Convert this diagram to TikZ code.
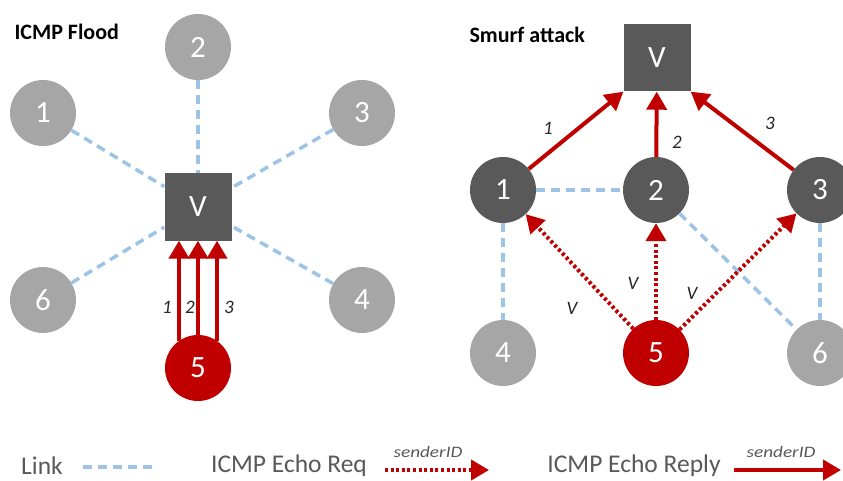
\documentclass[tikz,border=0pt]{standalone}
\usepackage{fontspec}
\usepackage{graphicx}
\setmainfont{Carlito}
\usetikzlibrary{arrows.meta}
\definecolor{lgray}{RGB}{166,166,166}
\definecolor{dgray}{RGB}{89,89,89}
\definecolor{dred}{RGB}{192,0,0}
\definecolor{lblue}{RGB}{157,195,230}
\definecolor{txtgray}{RGB}{89,89,89}
\begin{document}
\begin{tikzpicture}[x=1pt,y=-1pt,
  circ/.style={circle, minimum size=66pt, inner sep=0pt, text=white, font=\fontsize{31}{31}\selectfont},
  lnode/.style={circ, fill=lgray},
  dnode/.style={circ, fill=dgray},
  rnode/.style={circ, fill=dred},
  vbox/.style={rectangle, fill=dgray, minimum size=67pt, inner sep=0pt, text=white, font=\fontsize{31}{31}\selectfont},
  link/.style={draw=lblue, line width=3.5pt, dash pattern=on 9pt off 6pt},
  tipstyle/.style={-{Triangle[length=18pt,width=20pt]}},
  reply/.style={draw=dred, line width=4pt, tipstyle},
  req/.style={draw=dred, line width=4pt, dash pattern=on 3pt off 2.6pt, tipstyle},
  lab/.style={font=\itshape\fontsize{19}{19}\selectfont, text=black!85},
  sid/.style={font=\itshape\fontsize{16}{16}\selectfont, text=txtgray},
  ttl/.style={font=\bfseries\fontsize{22}{22}\selectfont, anchor=west},
  legtxt/.style={font=\fontsize{25.5}{25.5}\selectfont, text=txtgray},
]
\useasboundingbox[fill=white] (0,0) rectangle (843,481);

% ---------- ICMP Flood ----------
\node[ttl] (t1) at (11,32) {ICMP Flood};
\node[vbox] (LV) at (198,207) {V};
\node[lnode] (L1) at (43,113) {1};
\node[lnode] (L2) at (198,47) {2};
\node[lnode] (L3) at (362,113) {3};
\node[lnode] (L4) at (362,300) {4};
\node[lnode] (L6) at (43,300) {6};
\node[rnode] (L5) at (198,368) {5};

\draw[link] (L1) -- (LV);
\draw[link] (L2) -- (LV);
\draw[link] (L3) -- (LV);
\draw[link] (L4) -- (LV);
\draw[link] (L6) -- (LV);

\draw[reply] (L5.125) -- (L5.125 |- LV.south);
\draw[reply] (L5.north) -- (LV.south);
\draw[reply] (L5.55) -- (L5.55 |- LV.south);
\node[lab] (l1) at (167,307) {1};
\node[lab] (l2) at (190,307) {2};
\node[lab] (l3) at (229,307) {3};

% ---------- Smurf attack ----------
\node[ttl] (t2) at (466,35) {Smurf attack};
\node[vbox] (RV) at (657,58) {V};
\node[dnode] (R1) at (503,190) {1};
\node[dnode] (R2) at (656,190) {2};
\node[dnode] (R3) at (820,190) {3};
\node[lnode] (R4) at (503,353) {4};
\node[rnode] (R5) at (656,353) {5};
\node[lnode] (R6) at (820,353) {6};

\draw[link] (R1) -- (R2);
\draw[link] (R1) -- (R4);
\draw[link] (R3) -- (R6);
\draw[link] (R2) -- (R6);

\draw[reply] (R1) -- (RV.south west);
\draw[reply] (R2) -- (RV);
\draw[reply] (R3) -- (RV.south east);
\node[lab] (m1) at (548,128) {1};
\node[lab] (m2) at (677,142) {2};
\node[lab] (m3) at (770,123) {3};

\draw[req] (R5) -- (R1);
\draw[req] (R5) -- (R2);
\draw[req] (R5) -- (R3);
\node[lab] (v1) at (572,308) {V};
\node[lab] (v2) at (633,283) {V};
\node[lab] (v3) at (692,293) {V};

% ---------- Legend ----------
\node[legtxt] (g1) at (42,466) {Link};
\coordinate (k1a) at (83,467);
\coordinate (k1b) at (158,467);
\draw[link] (k1a) -- (k1b);

\node[legtxt] (g2) at (289,466) {ICMP Echo Req};
\coordinate (k2a) at (385,470);
\coordinate (k2b) at (489,470);
\draw[req] (k2a) -- (k2b);
\node[sid] (s2) at (428,452) {\scalebox{1.2}[1]{senderID}};

\node[legtxt] (g3) at (634,466) {ICMP Echo Reply};
\coordinate (k3a) at (734,470);
\coordinate (k3b) at (841,470);
\draw[reply] (k3a) -- (k3b);
\node[sid] (s3) at (781,452) {\scalebox{1.2}[1]{senderID}};
\end{tikzpicture}
\end{document}
